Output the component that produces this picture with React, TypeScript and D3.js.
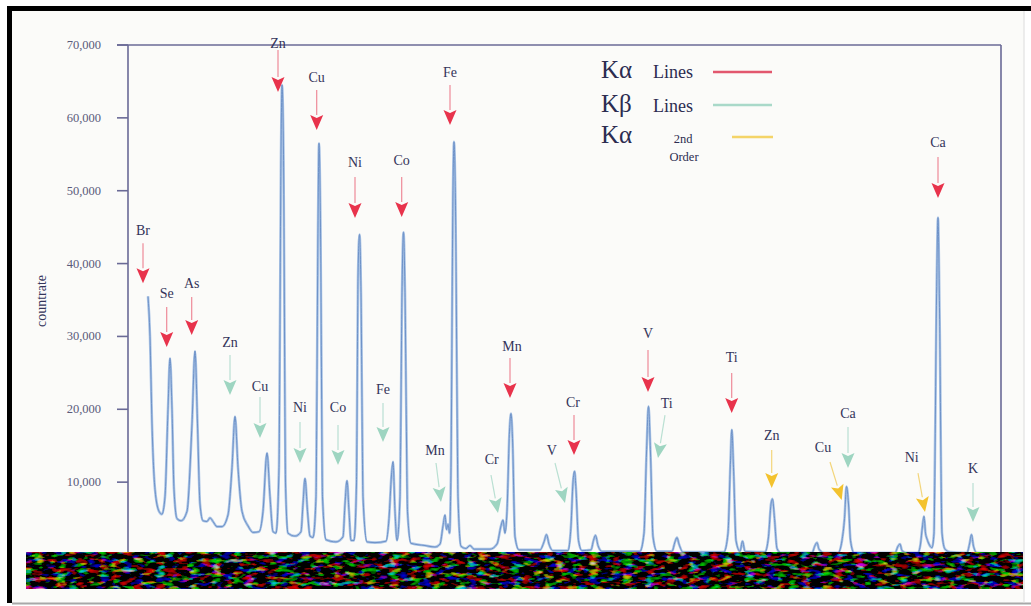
import React from "react";
import * as d3 from "d3";

// spectrum trace: scan channel vs countrate
const spectrumChannel = [
  148, 150, 152, 155, 159, 162, 165, 168, 170, 172, 174, 177, 181, 187, 192, 195, 197.5, 200, 203, 207,
  210, 213, 217, 222, 228, 232, 235, 238, 242, 248, 253, 259, 263, 267, 270, 273, 276, 279, 281, 282,
  283.5, 285.5, 288, 295, 301, 303, 305, 307.5, 310, 313, 316, 318, 319, 320.5, 322.5, 326, 336, 343, 345, 347,
  349, 351, 354, 356.5, 358, 359.5, 361, 363, 367, 375, 386, 389, 391.5, 393, 395, 397, 400, 402, 403.5, 405,
  407.5, 411, 425, 435, 440, 443, 445, 446.5, 448, 449.5, 451, 453, 454, 455.5, 458, 461, 466, 470, 474, 490,
  497, 501, 503, 505, 507, 509.5, 511, 512.5, 515, 519, 540, 544, 546.5, 549, 553, 568, 571, 573, 574.5, 576,
  578.5, 582, 591, 593.5, 595.5, 598, 602, 640, 644, 646.5, 648.5, 650.5, 653, 657, 672, 675, 677, 679, 683,
  724, 728, 730.5, 731.8, 733.5, 736, 740, 742.5, 745, 765, 768.5, 771, 772.5, 774.5, 777, 781, 812, 815, 817,
  819, 824, 838, 842, 844.5, 846.5, 848.5, 850.5, 854, 895, 898, 900, 902, 907, 918, 920.5, 922.5, 924, 925.5,
  927, 929, 932, 934, 936.5, 938, 939.5, 942, 945, 950, 967, 969.5, 971.5, 973.5, 977, 1000,
];
const spectrumCount = [
  35500, 30000, 18000, 9000, 6000, 5600, 8000, 20000, 27000, 20000, 9000, 5000, 4700, 6000, 18000, 28000, 18000, 7000, 4700, 4600,
  5100, 4600, 3900, 3900, 5500, 12000, 19000, 12000, 6000, 4000, 3100, 3200, 6000, 14000, 8000, 3200, 3000, 12000, 55000, 64500,
  55000, 10000, 3000, 2600, 3200, 7000, 10500, 6000, 2600, 2400, 8000, 45000, 56500, 45000, 8000, 2100, 1800, 2500, 7000, 10200,
  6000, 2000, 2000, 10000, 38000, 44000, 36000, 8000, 1800, 1700, 1900, 5000, 11000, 12800, 6000, 2000, 8000, 36000, 44300, 36000,
  6000, 1600, 1300, 1100, 1500, 4000, 5500, 3500, 4200, 3000, 12000, 50000, 56700, 48000, 8000, 1200, 900, 1300, 800, 800,
  1500, 4000, 4800, 3000, 6000, 17000, 19400, 16000, 2500, 700, 700, 1800, 2800, 1500, 600, 600, 4000, 10000, 11500, 9000,
  2000, 600, 700, 2000, 2700, 1300, 500, 500, 3000, 14000, 20400, 14000, 2500, 500, 500, 1800, 2400, 1500, 400,
  400, 3000, 13000, 17200, 12000, 2000, 500, 1900, 500, 400, 2500, 7000, 7700, 5000, 900, 300, 300, 1300, 1700,
  800, 300, 300, 2000, 5000, 9400, 7000, 2000, 300, 300, 1200, 1500, 600, 300, 300, 1500, 4000, 5300, 3000,
  2200, 1500, 1000, 3000, 35000, 46300, 34000, 3000, 800, 400, 300, 1500, 2800, 1200, 300, 200,
];

const yTicks = [10000, 20000, 30000, 40000, 50000, 60000, 70000];

// peak annotations: element, line type, label position, arrow start and tip
const peakNames = ["Br", "Se", "As", "Zn", "Cu", "Zn", "Cu", "Ni", "Co", "Ni", "Co", "Fe", "Fe", "Mn", "Mn", "Cr", "V", "Cr", "V", "Ti", "Ti", "Zn", "Cu", "Ca", "Ni", "Ca", "K"];
const peakKinds = ["a", "a", "a", "b", "b", "a", "a", "b", "b", "a", "a", "b", "a", "b", "a", "b", "b", "a", "a", "b", "a", "s", "s", "b", "s", "a", "b"];
const labelChannel = [143, 166.7, 191.7, 230, 260, 278, 316.7, 300, 338, 355, 401.7, 383, 450, 435, 512, 491.7, 551.7, 573, 648, 666.7, 731.7, 771.7, 823, 848, 911.7, 938, 973];
const labelCount = [44600, 35960, 37330, 29100, 23060, 70270, 65600, 20310, 20180, 53940, 54210, 22650, 66290, 14410, 28550, 13040, 14410, 21000, 30470, 20860, 27040, 16470, 14820, 19490, 13450, 56550, 11940];
const arrowFromChannel = [143, 166.7, 191.7, 230, 260, 278, 316.7, 300, 338, 355, 401.7, 383, 450, 436, 510, 491, 555, 574, 648, 665, 731.7, 771.7, 830, 848, 918, 938, 973];
const arrowFromCount = [42800, 34040, 35410, 27450, 21690, 69310, 63820, 18250, 17840, 51880, 51880, 20860, 64510, 12630, 27040, 10980, 12630, 19210, 28140, 19210, 24980, 14410, 12760, 17570, 11250, 54620, 9880];
const arrowToChannel = [143, 166.7, 191.7, 230, 260, 278, 316.7, 300, 338, 355, 401.7, 383, 450, 441, 510, 498, 565, 574, 648, 658, 731.7, 771.7, 841.7, 848, 925, 938, 973];
const arrowToCount = [37300, 28550, 30200, 21960, 16060, 63550, 58330, 12630, 12350, 46250, 46390, 15510, 59020, 7270, 21550, 5760, 7140, 13720, 22370, 13310, 19490, 9200, 7550, 11940, 5900, 49000, 4530];

const kindHead: Record<string, string> = { a: "#e8334c", b: "#9ed5c1", s: "#f3c22e" };
const kindShaft: Record<string, string> = { a: "#ee8a98", b: "#b9e0d2", s: "#f3d57a" };

// legend
const legendSymbols = ["Kα", "Kβ", "Kα"];
const legendColors = ["#e2576e", "#a9d9c9", "#f4d468"];

const W = 1031;
const H = 606;
const plot = { left: 128, right: 1001, top: 45, bottom: 555 };
const serif = "'Liberation Serif', 'Times New Roman', serif";
const ink = "#34345a";

export default function App() {
  const x = d3.scaleLinear().domain([128, 1001]).range([plot.left, plot.right]);
  const y = d3.scaleLinear().domain([0, 70000]).range([plot.bottom, plot.top]);

  const pts: [number, number][] = spectrumChannel.map((c, i) => [c, spectrumCount[i]]);
  const line = d3
    .line<[number, number]>()
    .x((d) => x(d[0]))
    .y((d) => y(d[1]))
    .curve(d3.curveMonotoneX);
  const path = line(pts) || "";

  const bandTop = 552;
  const bandBottom = 589;

  return (
    <svg width={W} height={H} style={{ position: "absolute", left: 0, top: 0, background: "#fff" }}>
      <defs>
        <filter id="glitch" x="0" y="0" width="100%" height="100%">
          <feTurbulence type="fractalNoise" baseFrequency="0.09 0.22" numOctaves={2} seed={7} result="t" />
          <feColorMatrix
            in="t"
            type="matrix"
            values="2.4 0.3 0 0 -1.45  0.2 2.2 0.2 0 -1.4  0 0.3 2.4 0 -1.5  0 0 0 0 1"
          />
        </filter>
        <clipPath id="plotClip">
          <rect x={plot.left} y={0} width={plot.right - plot.left} height={bandTop} />
        </clipPath>
      </defs>

      {/* scanned page frame */}
      <rect x={12} y={11} width={1012} height={592} fill="#fbfbf9" />
      <rect x={7} y={6} width={5} height={597} fill="#000" />
      <rect x={7} y={6} width={1024} height={5} fill="#000" />
      <line x1={12} x2={1031} y1={603.5} y2={603.5} stroke="#a8a8a8" strokeWidth={2} />
      <line x1={1024} x2={1024} y1={11} y2={603} stroke="#dcdcdc" strokeWidth={1} />

      {/* axes frame */}
      <g stroke="#6a6a96" strokeWidth={1.6} fill="none">
        <line x1={plot.left} x2={plot.left} y1={plot.top} y2={bandTop} />
        <line x1={plot.left - 11} x2={plot.right} y1={plot.top} y2={plot.top} />
        <line x1={plot.right} x2={plot.right} y1={plot.top} y2={bandTop} />
      </g>
      {yTicks.map((t) => (
        <g key={t}>
          <line x1={plot.left - 11} x2={plot.left} y1={y(t)} y2={y(t)} stroke="#6a6a96" strokeWidth={1.6} />
          <text
            x={101}
            y={y(t)}
            textAnchor="end"
            dominantBaseline="central"
            fontFamily={serif}
            fontSize={12.5}
            fill="#5a5a7a"
          >
            {d3.format(",")(t)}
          </text>
        </g>
      ))}
      <text
        transform="translate(41,301) rotate(-90)"
        textAnchor="middle"
        dominantBaseline="central"
        fontFamily={serif}
        fontSize={14}
        fill={ink}
      >
        countrate
      </text>

      {/* spectrum */}
      <g clipPath="url(#plotClip)">
        <path d={path} fill="none" stroke="#aac4e6" strokeWidth={2.6} strokeLinejoin="round" />
        <path d={path} fill="none" stroke="#6e92c8" strokeWidth={1} strokeLinejoin="round" />
      </g>

      {/* peak labels and arrows */}
      {peakNames.map((name, i) => {
        const x0 = x(arrowFromChannel[i]);
        const y0 = y(arrowFromCount[i]);
        const x1 = x(arrowToChannel[i]);
        const y1 = y(arrowToCount[i]);
        const len = Math.hypot(x1 - x0, y1 - y0);
        const ux = (x1 - x0) / len;
        const uy = (y1 - y0) / len;
        const hl = 15;
        const hw = 6.5;
        const bx = x1 - ux * hl;
        const by = y1 - uy * hl;
        const head = `M${x1},${y1} L${bx - uy * hw},${by + ux * hw} L${bx + ux * 3},${by + uy * 3} L${bx + uy * hw},${by - ux * hw} Z`;
        const k = peakKinds[i];
        return (
          <g key={i}>
            <text
              x={x(labelChannel[i])}
              y={y(labelCount[i])}
              textAnchor="middle"
              dominantBaseline="central"
              fontFamily={serif}
              fontSize={14}
              fill={ink}
            >
              {name}
            </text>
            <line x1={x0} y1={y0} x2={bx} y2={by} stroke={kindShaft[k]} strokeWidth={1.2} />
            <path d={head} fill={kindHead[k]} />
          </g>
        );
      })}

      {/* legend */}
      <g fontFamily={serif} fill="#2c2c50">
        {legendSymbols.map((s, i) => (
          <text key={i} x={601} y={[78, 112, 143][i]} fontSize={25}>
            {s}
          </text>
        ))}
        <text x={653} y={78} fontSize={18}>Lines</text>
        <text x={653} y={112} fontSize={18}>Lines</text>
        <text x={683} y={143} fontSize={12.5} textAnchor="middle">2nd</text>
        <text x={684} y={161} fontSize={12.5} textAnchor="middle">Order</text>
      </g>
      <line x1={713} x2={772} y1={72} y2={72} stroke={legendColors[0]} strokeWidth={2.5} />
      <line x1={713} x2={772} y1={105} y2={105} stroke={legendColors[1]} strokeWidth={2.5} />
      <line x1={732} x2={773} y1={137} y2={137} stroke={legendColors[2]} strokeWidth={2.5} />

      {/* damaged strip along the bottom of the scan */}
      <rect x={26} y={bandTop} width={997} height={bandBottom - bandTop} fill="#222" filter="url(#glitch)" />
    </svg>
  );
}
